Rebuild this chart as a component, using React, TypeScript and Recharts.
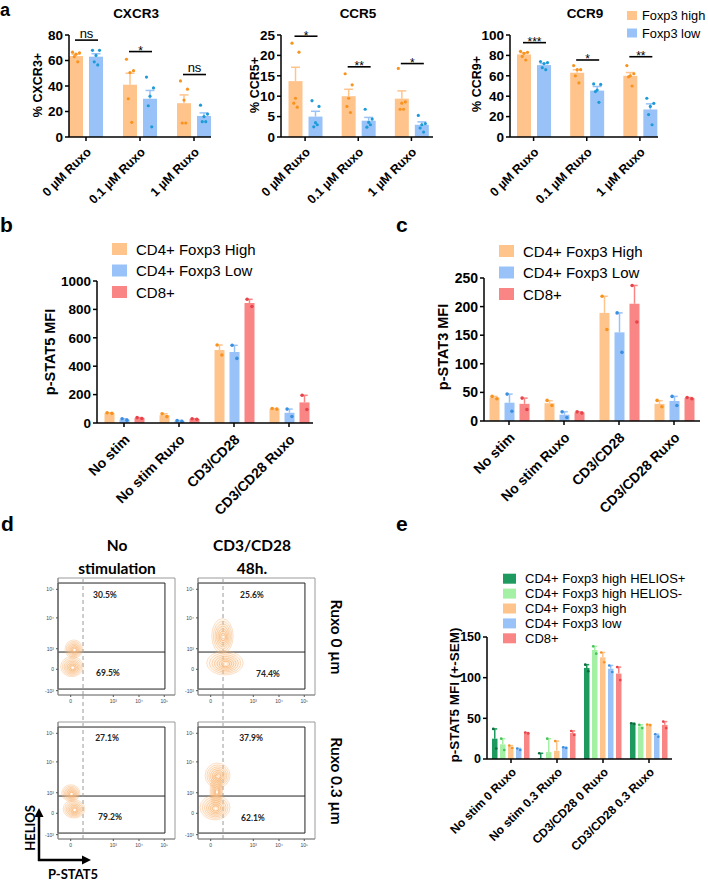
import React from "react";
import {
  BarChart,
  Bar,
  XAxis,
  YAxis,
  ScatterChart,
  Scatter,
  ReferenceArea,
  ReferenceLine,
  ReferenceDot,
} from "recharts";

const FONT = '"Liberation Sans", Arial, Helvetica, sans-serif';
const FLOW_FONT = 'Lato, "Open Sans", sans-serif';

// bar fills / dot colours
const C_HIGH = "#FFC48C";
const C_LOW = "#99C3F8";
const C_CD8 = "#FA8585";
const C_HPOS = "#1E9A5E";
const C_HNEG = "#A4F0A4";
const D_HIGH = "#F7931E";
const D_LOW = "#1E9BD7";
const D_CD8 = "#E8424A";
const D_HPOS = "#0F6B3C";
const D_HNEG = "#45C35A";

// ---------- panel a ----------
const ruxoDoses = ["0 µM Ruxo", "0.1 µM Ruxo", "1 µM Ruxo"];

const cxcr3High = [63.5, 41, 26.5];
const cxcr3HighSem = [1.4, 9, 6.5];
const cxcr3HighPts = [[66.5, 66, 65, 63, 59], [61, 52, 50.5, 30, 11.5], [44, 37.5, 29, 11, 11]];
const cxcr3Low = [63, 30, 16.5];
const cxcr3LowSem = [2.3, 6.5, 2.4];
const cxcr3LowPts = [[68, 68, 64, 59, 56.5], [47, 38.5, 32, 24.5, 8], [25, 18, 16, 12, 12]];
const cxcr3Sig = [{ y: 76, label: "ns" }, { y: 67, label: "*" }, { y: 49, label: "ns" }];

const ccr5High = [13.7, 10, 9.4];
const ccr5HighSem = [3.4, 1.7, 1.9];
const ccr5HighPts = [[23, 20.8, 9.5, 8.3, 7.3], [15.5, 12.8, 9.5, 7.5, 6], [16.8, 8.6, 8.3, 6.8, 6.8]];
const ccr5Low = [5, 4, 3];
const ccr5LowSem = [1.3, 0.8, 0.7];
const ccr5LowPts = [[8.9, 7.5, 3.5, 2.5, 3], [6.8, 4.4, 3.6, 2.4, 3], [5.3, 3.3, 3, 2.2, 1.2]];
const ccr5Sig = [{ y: 24.7, label: "*" }, { y: 17.2, label: "**" }, { y: 18, label: "*" }];

const ccr9High = [81, 63, 60];
const ccr9HighSem = [1.6, 2.9, 3.2];
const ccr9HighPts = [[84, 83, 82, 79, 75.5], [70, 66, 66, 60, 53], [70, 62, 60, 59, 50]];
const ccr9Low = [70.5, 45.5, 27];
const ccr9LowSem = [1.5, 4, 5.5];
const ccr9LowPts = [[74, 73, 72, 68, 66], [52, 51.5, 46, 44.5, 34], [38, 33, 30, 22, 12]];
const ccr9Sig = [{ y: 92.5, label: "***" }, { y: 75.5, label: "*" }, { y: 78.7, label: "**" }];

// ---------- panels b, c ----------
const stimGroups = ["No stim", "No stim Ruxo", "CD3/CD28", "CD3/CD28 Ruxo"];

const pstat5High = [70, 55, 514, 100];
const pstat5HighSem = [2, 10, 35, 2];
const pstat5HighPts = [[72, 68], [65, 45], [549, 479], [102, 98]];
const pstat5Low = [25, 15, 500, 72];
const pstat5LowSem = [5, 3, 47, 26];
const pstat5LowPts = [[30, 20], [18, 12], [548, 455], [98, 46]];
const pstat5Cd8 = [35, 28, 845, 145];
const pstat5Cd8Sem = [3, 2, 26, 50];
const pstat5Cd8Pts = [[38, 32], [30, 26], [872, 820], [195, 95]];

const pstat3High = [41, 31, 189, 30];
const pstat3HighSem = [2, 4.5, 29, 5.5];
const pstat3HighPts = [[43, 39], [36, 27], [218, 160], [36, 25]];
const pstat3Low = [32, 11, 155, 35];
const pstat3LowSem = [15, 5, 34, 8];
const pstat3LowPts = [[47, 17], [16, 6], [189, 120], [43, 27]];
const pstat3Cd8 = [30, 15, 205, 40];
const pstat3Cd8Sem = [10, 1, 32, 1];
const pstat3Cd8Pts = [[40, 20], [16, 14], [237, 173], [41, 39]];

// ---------- panel e ----------
const heliosGroups = ["No stim 0 Ruxo", "No stim 0.3 Ruxo", "CD3/CD28 0 Ruxo", "CD3/CD28 0.3 Ruxo"];
const helPos = [25, 1, 112, 43.5];
const helPosSem = [12, 6, 4, 0.5];
const helPosPts = [[37, 13], [7, -5], [116, 108], [44, 43]];
const helNeg = [18, 8.5, 134, 40];
const helNegSem = [7, 16.5, 4.5, 2];
const helNegPts = [[25, 11], [25, -8], [138.5, 129.5], [42, 38]];
const helHigh = [15, 10, 125, 42];
const helHighSem = [1.5, 12, 6, 0.3];
const helHighPts = [[16.5, 13.5], [22, -2], [131, 119], [42.3, 41.7]];
const helLow = [12, 14, 111, 29];
const helLowSem = [1, 0.5, 4, 1.5];
const helLowPts = [[13, 11], [14.5, 13.5], [115, 107], [30.5, 27.5]];
const helCd8 = [32, 32, 105, 42];
const helCd8Sem = [0.5, 2.5, 8, 4];
const helCd8Pts = [[32.5, 31.5], [34.5, 29.5], [113, 97], [46, 38]];

// ---------- panel d (channel units 0-1024) ----------
const flowXTicks = [111, 484, 709, 930];
const flowXLabels = ["0", "10³", "10⁴", "10⁵"];
const flowYTicks = [38, 225, 405, 675, 925];
const flowYLabels = ["-10³", "0", "10³", "10⁴", "10⁵"];
const blobsNoStim0 = [{ x: 138, y: 402, rx: 77, ry: 80 }, { x: 122, y: 248, rx: 99, ry: 88 }];
const blobsStim0 = [{ x: 214, y: 516, rx: 94, ry: 153 }, { x: 236, y: 280, rx: 160, ry: 105 }];
const blobsNoStim03 = [{ x: 112, y: 402, rx: 80, ry: 73 }, { x: 140, y: 263, rx: 95, ry: 80 }];
const blobsStim03 = [
  { x: 171, y: 556, rx: 109, ry: 109 },
  { x: 160, y: 420, rx: 55, ry: 140 },
  { x: 149, y: 276, rx: 131, ry: 109 },
];
const pctNoStim0 = [{ v: "30.5%", x: 411, y: 875 }, { v: "69.5%", x: 437, y: 192 }];
const pctStim0 = [{ v: "25.6%", x: 472, y: 875 }, { v: "74.4%", x: 612, y: 184 }];
const pctNoStim03 = [{ v: "27.1%", x: 429, y: 884 }, { v: "79.2%", x: 455, y: 192 }];
const pctStim03 = [{ v: "37.9%", x: 464, y: 884 }, { v: "62.1%", x: 481, y: 184 }];
const GATE = { x2: 936, y1: 52, y2: 980, split: 376, dash: 219 };

type Series = { key: string; fill: string; dot: string; mean: number[]; sem: number[]; pts: number[][] };

type Cfg = {
  left: number; top: number; width: number; height: number;
  axisX: number; axisEnd: number; plotTop: number; plotBottom: number;
  padL: number; padR: number; cats: string[]; series: Series[];
  yMax: number; yTicks: number[]; barSize: number; barGap: number;
  dotR: number; spread: number; yFont: number; xFont: number; xDy: number;
  sig?: { y: number; label: string }[];
};

const jitter = (k: number, n: number, spread: number) => {
  if (n <= 1) return 0;
  if (n === 2) return k === 0 ? -spread * 0.6 : spread * 0.6;
  const pattern = [-1, 1, 0, -0.5, 0.5, -1, 1];
  return pattern[k % pattern.length] * spread;
};

function makeShape(s: Series, idx: number, cfg: Cfg) {
  return (p: any) => {
    const { x, y, width, height, payload } = p;
    const v = payload[s.key];
    const base = y + height;
    const ppu = v ? height / v : 0;
    const toY = (val: number) => base - val * ppu;
    const cx = x + width / 2;
    const semTop = toY(v + payload[s.key + "Sem"]);
    const pts: number[] = payload[s.key + "Pts"];
    const cap = Math.max(width * 0.32, 2.5);
    const sig = idx === 0 ? payload.sig : null;
    let sigEl = null;
    if (sig) {
      const ly = toY(sig.y);
      const x1 = x + width / 2 - 1;
      const x2 = x + width + cfg.barGap + width / 2 + 2;
      const star = sig.label.indexOf("*") >= 0;
      sigEl = (
        <g>
          <line x1={x1} x2={x2} y1={ly} y2={ly} stroke="#000" strokeWidth={1.6} />
          <text x={(x1 + x2) / 2} y={star ? ly + 3.5 : ly - 2.5} textAnchor="middle" fontSize={star ? 12 : 13} fontFamily={FONT} fill="#000">
            {sig.label}
          </text>
        </g>
      );
    }
    return (
      <g>
        <rect x={x} y={y} width={width} height={height} fill={s.fill} />
        <line x1={cx} x2={cx} y1={y} y2={semTop} stroke={s.fill} strokeWidth={1.5} />
        <line x1={cx - cap} x2={cx + cap} y1={semTop} y2={semTop} stroke={s.fill} strokeWidth={1.5} />
        {pts.map((pv, k) =>
          pv >= 0 ? <circle key={k} cx={cx + jitter(k, pts.length, cfg.spread)} cy={toY(pv)} r={cfg.dotR} fill={s.dot} /> : null
        )}
        {sigEl}
      </g>
    );
  };
}

const RotTick = (props: any) => {
  const { x, y, payload, fs, dy } = props;
  return (
    <text
      transform={`translate(${x + 3},${y + dy}) rotate(-45)`}
      textAnchor="end"
      dominantBaseline="central"
      fontSize={fs}
      fontWeight={700}
      fontFamily={FONT}
      fill="#000"
    >
      {payload.value}
    </text>
  );
};

function GroupedBars({ cfg }: { cfg: Cfg }) {
  const rows = cfg.cats.map((c, i) => {
    const r: any = { cat: c };
    cfg.series.forEach((s) => {
      r[s.key] = s.mean[i];
      r[s.key + "Sem"] = s.sem[i];
      r[s.key + "Pts"] = s.pts[i];
    });
    if (cfg.sig) r.sig = cfg.sig[i];
    return r;
  });
  return (
    <div style={{ position: "absolute", left: cfg.left, top: cfg.top }}>
      <BarChart
        width={cfg.width}
        height={cfg.height}
        data={rows}
        barSize={cfg.barSize}
        barGap={cfg.barGap}
        margin={{ top: cfg.plotTop - cfg.top, right: cfg.left + cfg.width - cfg.axisEnd, bottom: 0, left: 0 }}
        style={{ overflow: "visible" }}
      >
        <XAxis
          dataKey="cat"
          type="category"
          interval={0}
          padding={{ left: cfg.padL, right: cfg.padR }}
          height={cfg.top + cfg.height - cfg.plotBottom}
          tickSize={4}
          axisLine={{ stroke: "#000", strokeWidth: 1.5 }}
          tickLine={{ stroke: "#000", strokeWidth: 1.5 }}
          tick={(p: any) => <RotTick {...p} fs={cfg.xFont} dy={cfg.xDy} />}
        />
        <YAxis
          type="number"
          domain={[0, cfg.yMax]}
          ticks={cfg.yTicks}
          interval={0}
          width={cfg.axisX - cfg.left}
          tickSize={4}
          axisLine={{ stroke: "#000", strokeWidth: 1.5 }}
          tickLine={{ stroke: "#000", strokeWidth: 1.5 }}
          tick={{ fontSize: cfg.yFont, fontWeight: 700, fill: "#000", fontFamily: FONT }}
        />
        {cfg.series.map((s, i) => (
          <Bar key={s.key} dataKey={s.key} fill={s.fill} isAnimationActive={false} shape={makeShape(s, i, cfg)} />
        ))}
      </BarChart>
    </div>
  );
}

const aSeries = (hi: number[], hiSem: number[], hiPts: number[][], lo: number[], loSem: number[], loPts: number[][]): Series[] => [
  { key: "high", fill: C_HIGH, dot: D_HIGH, mean: hi, sem: hiSem, pts: hiPts },
  { key: "low", fill: C_LOW, dot: D_LOW, mean: lo, sem: loSem, pts: loPts },
];

const aBase = {
  top: 0, height: 215, plotTop: 35, plotBottom: 137, cats: ruxoDoses,
  barSize: 14, barGap: 6, dotR: 1.6, spread: 3.5, yFont: 13.5, xFont: 12.5, xDy: 7,
};

const cxcr3Cfg: Cfg = {
  ...aBase, left: 0, width: 230, axisX: 69, axisEnd: 211, padL: -10, padR: -10,
  yMax: 80, yTicks: [0, 20, 40, 60, 80],
  series: aSeries(cxcr3High, cxcr3HighSem, cxcr3HighPts, cxcr3Low, cxcr3LowSem, cxcr3LowPts), sig: cxcr3Sig,
};
const ccr5Cfg: Cfg = {
  ...aBase, left: 230, width: 230, axisX: 281, axisEnd: 433, padL: -2.5, padR: -5,
  yMax: 25, yTicks: [0, 5, 10, 15, 20, 25],
  series: aSeries(ccr5High, ccr5HighSem, ccr5HighPts, ccr5Low, ccr5LowSem, ccr5LowPts), sig: ccr5Sig,
};
const ccr9Cfg: Cfg = {
  ...aBase, left: 460, width: 248, axisX: 510, axisEnd: 658, padL: -3, padR: -8.5,
  yMax: 100, yTicks: [0, 20, 40, 60, 80, 100],
  series: aSeries(ccr9High, ccr9HighSem, ccr9HighPts, ccr9Low, ccr9LowSem, ccr9LowPts), sig: ccr9Sig,
};

const pstat5Cfg: Cfg = {
  left: 0, top: 210, width: 360, height: 320, axisX: 97, axisEnd: 313, plotTop: 281, plotBottom: 423,
  padL: -0.5, padR: -3.5, cats: stimGroups, yMax: 1000, yTicks: [0, 200, 400, 600, 800, 1000],
  barSize: 10, barGap: 5, dotR: 1.8, spread: 4, yFont: 13.5, xFont: 14, xDy: 8,
  series: [
    { key: "high", fill: C_HIGH, dot: D_HIGH, mean: pstat5High, sem: pstat5HighSem, pts: pstat5HighPts },
    { key: "low", fill: C_LOW, dot: "#3B8FE0", mean: pstat5Low, sem: pstat5LowSem, pts: pstat5LowPts },
    { key: "cd8", fill: C_CD8, dot: D_CD8, mean: pstat5Cd8, sem: pstat5Cd8Sem, pts: pstat5Cd8Pts },
  ],
};
const pstat3Cfg: Cfg = {
  left: 360, top: 210, width: 348, height: 320, axisX: 484, axisEnd: 700, plotTop: 278, plotBottom: 421,
  padL: -2.5, padR: -1.5, cats: stimGroups, yMax: 250, yTicks: [0, 50, 100, 150, 200, 250],
  barSize: 10, barGap: 5, dotR: 1.8, spread: 4, yFont: 14, xFont: 14, xDy: 8,
  series: [
    { key: "high", fill: C_HIGH, dot: D_HIGH, mean: pstat3High, sem: pstat3HighSem, pts: pstat3HighPts },
    { key: "low", fill: C_LOW, dot: "#3B8FE0", mean: pstat3Low, sem: pstat3LowSem, pts: pstat3LowPts },
    { key: "cd8", fill: C_CD8, dot: D_CD8, mean: pstat3Cd8, sem: pstat3Cd8Sem, pts: pstat3Cd8Pts },
  ],
};
const heliosCfg: Cfg = {
  left: 440, top: 560, width: 268, height: 321, axisX: 487, axisEnd: 672, plotTop: 637, plotBottom: 759,
  padL: 1, padR: 0, cats: heliosGroups, yMax: 150, yTicks: [0, 50, 100, 150],
  barSize: 5.5, barGap: 2.5, dotR: 1.3, spread: 2.5, yFont: 12.5, xFont: 12, xDy: 5,
  series: [
    { key: "hpos", fill: C_HPOS, dot: D_HPOS, mean: helPos, sem: helPosSem, pts: helPosPts },
    { key: "hneg", fill: C_HNEG, dot: D_HNEG, mean: helNeg, sem: helNegSem, pts: helNegPts },
    { key: "high", fill: C_HIGH, dot: D_HIGH, mean: helHigh, sem: helHighSem, pts: helHighPts },
    { key: "low", fill: C_LOW, dot: "#3B8FE0", mean: helLow, sem: helLowSem, pts: helLowPts },
    { key: "cd8", fill: C_CD8, dot: D_CD8, mean: helCd8, sem: helCd8Sem, pts: helCd8Pts },
  ],
};

// ---------- flow plots ----------
const FLOW_PLOT = 117;
const PX_PER_CH = FLOW_PLOT / 1024;
const RINGS = [1, 0.86, 0.72, 0.59, 0.46, 0.34, 0.22];

const blobShape = (p: any) => {
  const { cx, cy, payload } = p;
  const rx = payload.rx * PX_PER_CH;
  const ry = payload.ry * PX_PER_CH;
  return (
    <g>
      {RINGS.map((f, i) => (
        <ellipse
          key={i}
          cx={cx + (1 - f) * 0.8}
          cy={cy + (1 - f) * 1.2}
          rx={rx * f}
          ry={ry * f}
          fill="#FCD9B2"
          fillOpacity={0.14}
          stroke="#F5A35A"
          strokeOpacity={0.45 + i * 0.06}
          strokeWidth={0.7}
        />
      ))}
      <circle cx={cx + 0.8} cy={cy + 1} r={1} fill="#fff" />
    </g>
  );
};

const flowTick = (labels: string[], ticks: number[], axis: "x" | "y") => (p: any) => {
  const i = ticks.indexOf(p.payload.value);
  const lab = i >= 0 ? labels[i] : "";
  return (
    <text
      x={p.x}
      y={p.y}
      textAnchor={axis === "x" ? "middle" : "end"}
      dominantBaseline={axis === "x" ? "hanging" : "central"}
      fontSize={5}
      fill="#444"
      fontFamily={FONT}
    >
      {lab}
    </text>
  );
};

function FlowPlot({ plotX, plotY, blobs, pct }: { plotX: number; plotY: number; blobs: any[]; pct: any[] }) {
  const yW = 28;
  return (
    <div style={{ position: "absolute", left: plotX - yW, top: plotY - 3 }}>
      <ScatterChart width={yW + FLOW_PLOT + 5} height={3 + FLOW_PLOT + 16} margin={{ top: 3, right: 5, bottom: 0, left: 0 }}>
        <XAxis
          type="number"
          dataKey="x"
          domain={[0, 1024]}
          ticks={flowXTicks}
          interval={0}
          allowDataOverflow
          height={16}
          tickSize={2}
          tickMargin={2}
          axisLine={{ stroke: "#8a8a8a" }}
          tickLine={{ stroke: "#555" }}
          tick={flowTick(flowXLabels, flowXTicks, "x")}
        />
        <YAxis
          type="number"
          dataKey="y"
          domain={[0, 1024]}
          ticks={flowYTicks}
          interval={0}
          allowDataOverflow
          width={yW}
          tickSize={2}
          tickMargin={2}
          axisLine={{ stroke: "#8a8a8a" }}
          tickLine={{ stroke: "#555" }}
          tick={flowTick(flowYLabels, flowYTicks, "y")}
        />
        <ReferenceArea x1={0} x2={1024} y1={0} y2={1024} fill="none" stroke="#9a9a9a" strokeWidth={1} />
        <Scatter data={blobs} shape={blobShape} isAnimationActive={false} />
        <ReferenceArea x1={0} x2={GATE.x2} y1={GATE.y1} y2={GATE.y2} fill="none" stroke="#222" strokeWidth={1} />
        <ReferenceLine segment={[{ x: 0, y: GATE.split }, { x: GATE.x2, y: GATE.split }]} stroke="#222" strokeWidth={1} />
        <ReferenceLine x={GATE.dash} stroke="#9a9a9a" strokeDasharray="4 3" strokeWidth={1} />
        {pct.map((q, i) => (
          <ReferenceDot
            key={i}
            x={q.x}
            y={q.y}
            r={1}
            fill="none"
            stroke="none"
            label={{ value: q.v, position: "center", fontSize: 8.5, fontWeight: 700, fill: "#222", fontFamily: FLOW_FONT }}
          />
        ))}
      </ScatterChart>
    </div>
  );
}

function VText({ x, y, children, size, weight = 700, rot = -90, family = FONT }: any) {
  return (
    <text
      transform={`translate(${x},${y}) rotate(${rot})`}
      textAnchor="middle"
      dominantBaseline="central"
      fontSize={size}
      fontWeight={weight}
      fontFamily={family}
      fill="#000"
    >
      {children}
    </text>
  );
}

function LegendRows({ x, y0, step, w, h, size, gap = 9, items }: any) {
  return (
    <g>
      {items.map((it: any, i: number) => (
        <g key={i}>
          <rect x={x} y={y0 + i * step - h / 2} width={w} height={h} fill={it.c} />
          <text x={x + w + gap} y={y0 + i * step} dominantBaseline="central" fontSize={size} fontFamily={FONT} fill="#000">
            {it.t}
          </text>
        </g>
      ))}
    </g>
  );
}

function Overlay() {
  const stimLegend = [
    { c: C_HIGH, t: "CD4+ Foxp3 High" },
    { c: C_LOW, t: "CD4+ Foxp3 Low" },
    { c: C_CD8, t: "CD8+" },
  ];
  return (
    <svg width={708} height={881} style={{ position: "absolute", left: 0, top: 0, pointerEvents: "none" }}>
      {/* panel letters */}
      <text x={0} y={16} fontSize={18} fontWeight={700} fontFamily={FONT}>a</text>
      <text x={0} y={231.5} fontSize={21} fontWeight={700} fontFamily={FONT}>b</text>
      <text x={396} y={231.5} fontSize={21} fontWeight={700} fontFamily={FONT}>c</text>
      <text x={1} y={530.5} fontSize={21} fontWeight={700} fontFamily={FONT}>d</text>
      <text x={396} y={530.5} fontSize={21} fontWeight={700} fontFamily={FONT}>e</text>

      {/* panel a titles and axis labels */}
      <VText x={136} y={13.5} size={13.5} rot={0}>CXCR3</VText>
      <VText x={358} y={13.5} size={13.5} rot={0}>CCR5</VText>
      <VText x={585} y={13.5} size={13.5} rot={0}>CCR9</VText>
      <VText x={38} y={85} size={12.5}>% CXCR3+</VText>
      <VText x={255} y={85} size={12.5}>% CCR5+</VText>
      <VText x={477} y={84} size={12.5}>% CCR9+</VText>
      <LegendRows x={627} y0={15.5} step={17.5} w={10} h={9} size={12.8} gap={5} items={[{ c: C_HIGH, t: "Foxp3 high" }, { c: C_LOW, t: "Foxp3 low" }]} />

      {/* panels b, c */}
      <LegendRows x={112} y0={249} step={21.5} w={15} h={12} size={15} items={stimLegend} />
      <LegendRows x={499} y0={251} step={21.5} w={15} h={12} size={15} items={stimLegend} />
      <VText x={50} y={352} size={14.5}>p-STAT5 MFI</VText>
      <VText x={443} y={347} size={14.5}>p-STAT3 MFI</VText>

      {/* panel e */}
      <LegendRows
        x={503}
        y0={578.7}
        step={14.9}
        w={13}
        h={10}
        size={13}
        items={[
          { c: C_HPOS, t: "CD4+ Foxp3 high HELIOS+" },
          { c: C_HNEG, t: "CD4+ Foxp3 high HELIOS-" },
          { c: C_HIGH, t: "CD4+ Foxp3 high" },
          { c: C_LOW, t: "CD4+ Foxp3 low" },
          { c: C_CD8, t: "CD8+" },
        ]}
      />
      <VText x={454} y={695} size={13.5}>p-STAT5 MFI (+-SEM)</VText>

      {/* panel d annotations */}
      <VText x={117} y={545} size={15.5} rot={0} family={FLOW_FONT}>No</VText>
      <VText x={117} y={568} size={15.5} rot={0} family={FLOW_FONT}>stimulation</VText>
      <VText x={252} y={545} size={15.5} rot={0} family={FLOW_FONT}>CD3/CD28</VText>
      <VText x={252} y={568} size={15.5} rot={0} family={FLOW_FONT}>48h.</VText>
      <VText x={337} y={637} size={15.5} rot={90} family={FLOW_FONT}>Ruxo 0 µm</VText>
      <VText x={337} y={781} size={15.5} rot={90} family={FLOW_FONT}>Ruxo 0.3 µm</VText>
      <line x1={83} x2={83} y1={695} y2={722} stroke="#9a9a9a" strokeDasharray="4 3" />
      <line x1={223} x2={223} y1={695} y2={722} stroke="#9a9a9a" strokeDasharray="4 3" />
      <line x1={39} x2={39} y1={861} y2={815} stroke="#000" strokeWidth={2.5} />
      <polygon points="39,808 34.5,817 43.5,817" fill="#000" />
      <line x1={38} x2={84} y1={860} y2={860} stroke="#000" strokeWidth={2.5} />
      <polygon points="91,860 82,855.5 82,864.5" fill="#000" />
      <VText x={30} y={828} size={13} family={FLOW_FONT}>HELIOS</VText>
      <VText x={73} y={874} size={13} rot={0} family={FLOW_FONT}>P-STAT5</VText>
    </svg>
  );
}

export default function App() {
  return (
    <div style={{ position: "absolute", left: 0, top: 0, width: 708, height: 881, background: "#fff", overflow: "hidden" }}>
      <GroupedBars cfg={cxcr3Cfg} />
      <GroupedBars cfg={ccr5Cfg} />
      <GroupedBars cfg={ccr9Cfg} />
      <GroupedBars cfg={pstat5Cfg} />
      <GroupedBars cfg={pstat3Cfg} />
      <GroupedBars cfg={heliosCfg} />
      <FlowPlot plotX={58} plotY={578} blobs={blobsNoStim0} pct={pctNoStim0} />
      <FlowPlot plotX={198} plotY={578} blobs={blobsStim0} pct={pctStim0} />
      <FlowPlot plotX={58} plotY={722} blobs={blobsNoStim03} pct={pctNoStim03} />
      <FlowPlot plotX={198} plotY={722} blobs={blobsStim03} pct={pctStim03} />
      <Overlay />
    </div>
  );
}
